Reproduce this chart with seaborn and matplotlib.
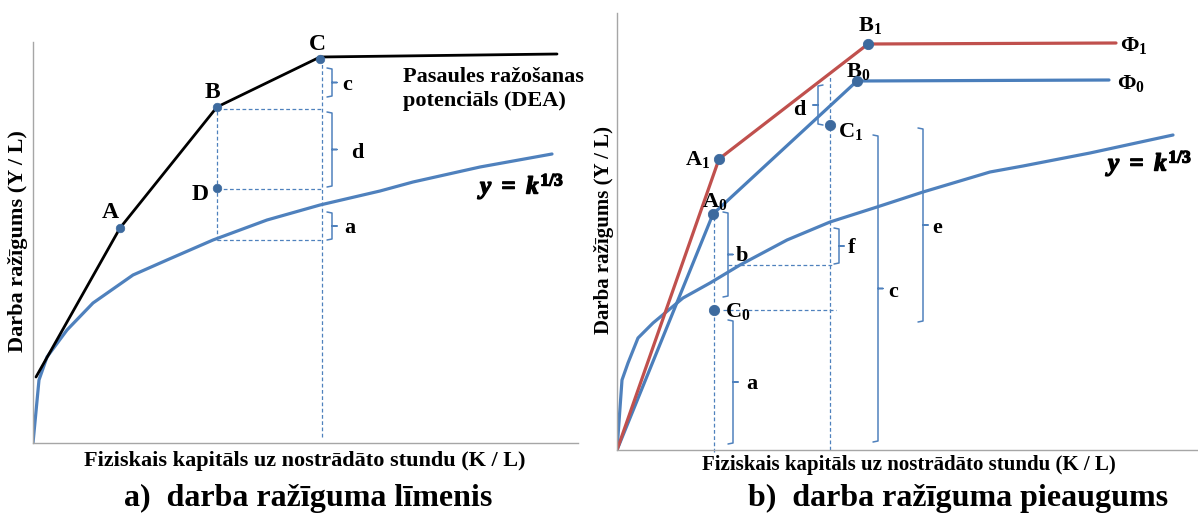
import matplotlib

matplotlib.use("Agg")
import matplotlib.pyplot as plt
import matplotlib.patheffects as pe
import seaborn as sns

# Diagram values (units = pixels from each panel's origin)

# panel a) - level of labour productivity
FRONTIER_A_X = [3, 87, 184, 287, 524]
FRONTIER_A_Y = [66, 215, 336, 386, 389]
CURVE_A_X = [0, 6, 14, 34, 60, 100, 134, 180, 234, 287, 347, 380, 447, 519]
CURVE_A_Y = [0, 63, 86, 113, 140, 168, 183, 203, 223, 238, 252, 261, 276, 289]
POINTS_A_X = [87, 184, 287, 184]
POINTS_A_Y = [215, 336, 384, 255]
POINT_LABELS_A = ["A", "B", "C", "D"]
POINT_LABELS_A_X = [77, 179, 284, 167]
POINT_LABELS_A_Y = [230, 350, 398, 248]
GUIDES_A = [  # (x0, y0, x1, y1)
    (184, 203, 184, 336),
    (289, 6, 289, 381),
    (184, 334, 289, 334),
    (184, 254, 289, 254),
    (184, 203, 289, 203),
]
BRACES_A = [  # (label, x, y0, y1, tip direction)
    ("c", 299, 346, 375, 1),
    ("d", 299, 256, 331, 1),
    ("a", 299, 203, 231, 1),
]
BRACE_LABELS_A = [(314, 358), (324, 290), (317, 215)]

# panel b) - growth of labour productivity
FRONTIER_1_X = [0, 102, 251, 499]
FRONTIER_1_Y = [0, 291, 406, 407]
FRONTIER_0_X = [0, 96, 240, 492]
FRONTIER_0_Y = [0, 236, 369, 370]
CURVE_B_X = [0, 5, 11, 21, 36, 66, 93, 123, 170, 213, 260, 306, 373, 406, 473, 556]
CURVE_B_Y = [0, 70, 87, 112, 127, 152, 167, 185, 210, 228, 243, 258, 278, 284, 297, 315]
POINTS_B_X = [102, 96, 251, 240, 213, 97]
POINTS_B_Y = [291, 236, 406, 369, 325, 140]
POINT_LABELS_B = ["A", "A", "B", "B", "C", "C"]
POINT_SUBS_B = ["1", "0", "1", "0", "1", "0"]
POINT_LABELS_B_POS = [(93, 291, "right"), (98, 249, "center"), (253, 425, "center"),
                      (241, 378, "center"), (221, 318, "left"), (108, 138, "left")]
GUIDES_B = [
    (97, -2, 97, 236),
    (213, 0, 213, 374),
    (111, 185, 216, 185),
    (106, 140, 219, 140),
]
BRACES_B = [
    ("d", 201, 325, 365, -1),
    ("b", 111, 153, 238, 1),
    ("f", 222, 186, 222, 1),
    ("c", 261, 8, 315, 1),
    ("e", 306, 128, 322, 1),
    ("a", 116, 6, 130, 1),
]
BRACE_LABELS_B = [(182, 340), (125, 194), (235, 202), (276, 158), (320, 222), (135, 66)]
PHI_LABELS = [("1", 503, 405), ("0", 500, 367)]

# pixel boxes of the two plotting areas (left, top, right, bottom) in the 1198x513 figure
FIG_W, FIG_H = 1198, 513
BOX_A = (33, 42, 578, 443)
BOX_B = (617, 13, 1198, 450)

BLUE = "#4F81BD"
BLUE_LINE = "#4A7EBB"
RED = "#C0504D"
DOT = "#3D6A9E"
AXIS_GREY = "#A6A6A6"

sns.set_theme(style="white")
plt.rcParams["font.family"] = ["Liberation Serif", "DejaVu Serif"]
plt.rcParams["font.weight"] = "bold"
plt.rcParams["text.color"] = "black"
plt.rcParams["mathtext.fontset"] = "custom"
plt.rcParams["mathtext.rm"] = "Liberation Serif"
plt.rcParams["mathtext.it"] = "Liberation Serif:italic:bold"
plt.rcParams["mathtext.bf"] = "Liberation Serif:bold"

FORMULA = r"$\mathit{y}\ \mathbf{=}\ \mathit{k}^{\mathbf{1/3}}$"
HEAVY = [pe.withStroke(linewidth=1.0, foreground="black")]


def make_axes(fig, box):
    left, top, right, bottom = box
    ax = fig.add_axes([left / FIG_W, 1 - bottom / FIG_H, (right - left) / FIG_W, (bottom - top) / FIG_H])
    ax.set_xlim(0, right - left)
    ax.set_ylim(0, bottom - top)
    ax.set_xticks([])
    ax.set_yticks([])
    for side in ("top", "right"):
        ax.spines[side].set_visible(False)
    for side in ("left", "bottom"):
        ax.spines[side].set_color(AXIS_GREY)
        ax.spines[side].set_linewidth(1.0)
    ax.patch.set_alpha(0)
    return ax


def draw_guides(ax, guides):
    for x0, y0, x1, y1 in guides:
        ax.plot([x0, x1], [y0, y1], color=BLUE, linewidth=0.9, linestyle=(0, (3, 2)), clip_on=False)


def draw_brace(ax, x, y0, y1, direction, hook=5, tip=5):
    mid = (y0 + y1) / 2
    xs = [x - direction * hook, x, x, x + direction * tip, x, x, x - direction * hook]
    ys = [y1, y1 - 1, mid, mid, mid, y0 + 1, y0]
    ax.plot(xs, ys, color=BLUE, linewidth=1.1, clip_on=False)


def draw_line(ax, xs, ys, color, width):
    sns.lineplot(x=xs, y=ys, sort=False, estimator=None, color=color, linewidth=width, ax=ax)


fig = plt.figure(figsize=(FIG_W / 100, FIG_H / 100), dpi=100)

# ---- panel a ----
ax_a = make_axes(fig, BOX_A)
draw_guides(ax_a, GUIDES_A)
draw_line(ax_a, CURVE_A_X, CURVE_A_Y, BLUE, 2.3)
draw_line(ax_a, FRONTIER_A_X, FRONTIER_A_Y, "black", 2.0)
sns.scatterplot(x=POINTS_A_X, y=POINTS_A_Y, s=38, color=DOT, edgecolor=DOT, ax=ax_a, zorder=5)
for name, x, y in zip(POINT_LABELS_A, POINT_LABELS_A_X, POINT_LABELS_A_Y):
    ax_a.text(x, y, name, fontsize=17, fontweight="bold", ha="center", va="center")
for (name, x, y0, y1, d), (lx, ly) in zip(BRACES_A, BRACE_LABELS_A):
    draw_brace(ax_a, x, y0, y1, d)
    ax_a.text(lx, ly, name, fontsize=16, fontweight="bold", ha="center", va="center")
ax_a.text(370, 354, "Pasaules ražošanas\npotenciāls (DEA)", fontsize=16, fontweight="bold",
          ha="left", va="center", linespacing=1.28)
ax_a.text(447, 257, FORMULA, fontsize=18, ha="left", va="center", path_effects=HEAVY)

# ---- panel b ----
ax_b = make_axes(fig, BOX_B)
draw_guides(ax_b, GUIDES_B)
draw_line(ax_b, CURVE_B_X, CURVE_B_Y, BLUE, 2.3)
draw_line(ax_b, FRONTIER_0_X, FRONTIER_0_Y, BLUE_LINE, 2.3)
draw_line(ax_b, FRONTIER_1_X, FRONTIER_1_Y, RED, 2.3)
sns.scatterplot(x=POINTS_B_X, y=POINTS_B_Y, s=55, color=DOT, edgecolor=DOT, ax=ax_b, zorder=5)
for name, sub, (x, y, ha) in zip(POINT_LABELS_B, POINT_SUBS_B, POINT_LABELS_B_POS):
    ax_b.text(x, y, rf"$\mathbf{{{name}}}_{{\mathrm{{{sub}}}}}$", fontsize=16, ha=ha, va="center")
for (name, x, y0, y1, d), (lx, ly) in zip(BRACES_B, BRACE_LABELS_B):
    draw_brace(ax_b, x, y0, y1, d)
    ax_b.text(lx, ly, name, fontsize=16, fontweight="bold", ha="center", va="center")
for sub, x, y in PHI_LABELS:
    ax_b.text(x, y, rf"$\mathbf{{Φ}}_{{\mathrm{{{sub}}}}}$", fontsize=16, ha="left", va="center")
ax_b.text(491, 287, FORMULA, fontsize=18, ha="left", va="center", clip_on=False, path_effects=HEAVY)

# ---- axis titles and captions ----
for px, py, size in [(18, 241, 16), (604, 230, 15)]:
    fig.text(px / FIG_W, 1 - py / FIG_H, "Darba ražīgums (Y / L)", rotation=90,
             fontsize=size, fontweight="bold", ha="center", va="center")
for px, py, size in [(305, 461, 16), (909, 465, 15)]:
    fig.text(px / FIG_W, 1 - py / FIG_H, "Fiziskais kapitāls uz nostrādāto stundu (K / L)",
             fontsize=size, fontweight="bold", ha="center", va="center")
fig.text(308 / FIG_W, 1 - 498 / FIG_H, "a)  darba ražīguma līmenis", fontsize=23,
         fontweight="bold", ha="center", va="center")
fig.text(958 / FIG_W, 1 - 498 / FIG_H, "b)  darba ražīguma pieaugums", fontsize=23,
         fontweight="bold", ha="center", va="center")

fig.savefig("out.png", dpi=100)
plt.close(fig)
